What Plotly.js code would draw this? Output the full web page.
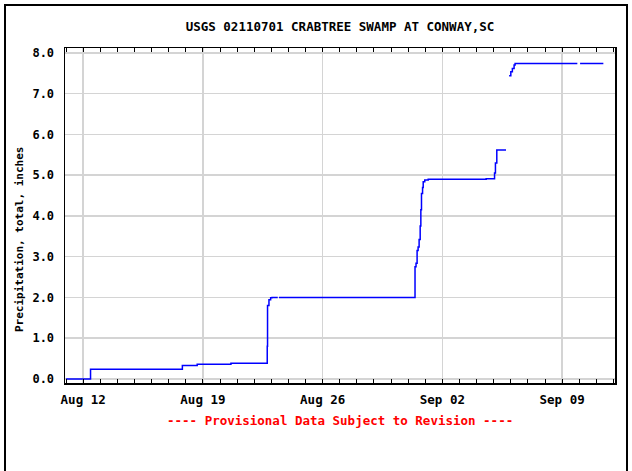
<!DOCTYPE html>
<html>
<head>
<meta charset="utf-8">
<script src="https://cdn.plot.ly/plotly-3.0.1.min.js"></script>
<style>
html,body{margin:0;padding:0;background:#fff;}
#wrap{position:relative;width:632px;height:471px;}
#chart{width:632px;height:471px;}
#frame{position:absolute;left:4px;top:4px;width:620px;height:480px;border-left:2px solid #000;border-top:2px solid #000;border-right:2px solid #000;pointer-events:none;}
</style>
</head>
<body>
<div id="wrap"><div id="chart"></div><div id="frame"></div></div>
<script>
const chartTitle = "USGS 02110701 CRABTREE SWAMP AT CONWAY,SC";
const yTitle = "Precipitation, total, inches";
const footer = "---- Provisional Data Subject to Revision ----";

const times = [
"2023-08-11 00:00","2023-08-12 10:20","2023-08-17 19:10","2023-08-18 16:00","2023-08-20 15:20",
"2023-08-22 18:15","2023-08-22 18:40","2023-08-22 20:40","2023-08-22 23:00","2023-08-23 01:00",
"2023-08-23 09:00","2023-08-23 09:45","2023-08-23 10:45",
"2023-08-31 09:35","2023-08-31 11:00","2023-08-31 12:30","2023-08-31 13:55","2023-08-31 15:20",
"2023-08-31 16:50","2023-08-31 17:45","2023-08-31 18:40","2023-08-31 20:10","2023-08-31 21:05",
"2023-08-31 23:15","2023-09-01 04:05","2023-09-04 13:25","2023-09-05 01:10","2023-09-05 02:25",
"2023-09-05 04:20","2023-09-05 17:15","2023-09-05 19:00",
"2023-09-05 21:35","2023-09-06 00:00","2023-09-06 02:10","2023-09-06 04:35","2023-09-06 06:00",
"2023-09-09 21:20","2023-09-10 00:00","2023-09-10 01:10","2023-09-11 09:50"
];
const precip = [
0.00,0.24,0.33,0.36,0.385,
0.80,1.80,1.94,1.99,2.00,
2.00,null,2.00,
2.75,2.84,3.15,3.24,3.42,
3.75,4.15,4.55,4.70,4.84,
4.88,4.90,4.91,5.05,5.30,
5.62,5.62,null,
7.44,7.54,7.62,7.70,7.74,
7.74,null,7.74,7.74
];
const xRange = ["2023-08-10 22:30","2023-09-12 02:10"];
const yRange = [-0.1, 8.12];

const mono = "DejaVu Sans Mono, Liberation Mono, monospace";

const trace = {
  x: times, y: precip, type: "scatter", mode: "lines",
  line: {color: "#0000ff", width: 1.5, shape: "hv"},
  connectgaps: false, hoverinfo: "skip"
};

const layout = {
  width: 632, height: 471,
  margin: {l: 65, r: 17, t: 48, b: 88},
  paper_bgcolor: "#ffffff", plot_bgcolor: "#ffffff",
  showlegend: false,
  title: {text: chartTitle, font: {family: mono, size: 12.5, color: "#000", weight: "bold"},
          x: 340/632, xanchor: "center", y: 1 - 27/471, yanchor: "middle", yref: "container"},
  xaxis: {
    type: "date", range: xRange,
    tick0: "2023-08-12", dtick: 7*86400000, tickformat: "%b %d",
    ticks: "inside", ticklen: 4, tickcolor: "#000", tickwidth: 1,
    minor: {dtick: 86400000, tick0: "2023-08-12", ticks: "inside", ticklen: 4, tickcolor: "#000", tickwidth: 1, showgrid: false},
    showgrid: true, gridcolor: "#d4d4d4", gridwidth: 1.5,
    showline: true, linecolor: "#000", linewidth: 1.5, mirror: "allticks",
    tickfont: {family: mono, size: 12.5, color: "#000", weight: "bold"},
    ticklabelstandoff: 4, zeroline: false
  },
  yaxis: {
    range: yRange, dtick: 1, tick0: 0, tickformat: ".1f",
    ticks: "", showgrid: true, gridcolor: "#d4d4d4", gridwidth: 1.5,
    showline: true, linecolor: "#000", linewidth: 1.5, mirror: true,
    tickfont: {family: mono, size: 12, color: "#000", weight: "bold"},
    ticklabelstandoff: 7, zeroline: false
  },
  annotations: [
    {text: yTitle, xref: "paper", yref: "paper", x: (20-65)/550, y: (383-240)/335,
     xanchor: "center", yanchor: "middle", textangle: -90, showarrow: false,
     font: {family: mono, size: 11, color: "#000", weight: "bold"}},
    {text: footer, xref: "paper", yref: "paper", x: (340-65)/550, y: (383-420)/335,
     xanchor: "center", yanchor: "middle", showarrow: false,
     font: {family: mono, size: 12.5, color: "#ff0000", weight: "bold"}}
  ]
};

Plotly.newPlot("chart", [trace], layout, {staticPlot: true, displayModeBar: false});
</script>
</body>
</html>
